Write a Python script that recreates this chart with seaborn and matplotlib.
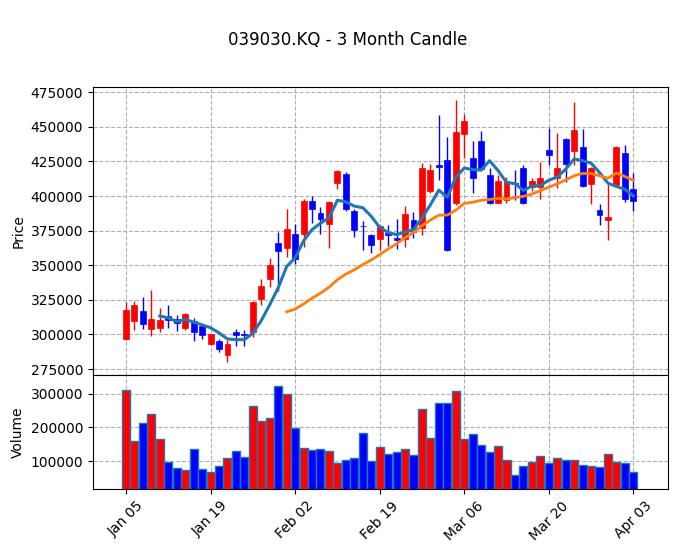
# Candlestick chart with moving averages and volume
import numpy as np
import pandas as pd
import matplotlib
matplotlib.use("Agg")
import matplotlib.pyplot as plt
import seaborn as sns
from matplotlib.ticker import MultipleLocator, ScalarFormatter

# ===========================
# Data
# ===========================
ticker_title = "039030.KQ - 3 Month Candle"

opens = [296400, 309700, 317300, 303900, 304800, 313000, 311400, 304600, 309400, 306000,
         293200, 295200, 285300, 301900, 300700, 301500, 325600, 340300, 366400, 362700,
         372500, 372900, 396400, 387900, 380000, 409700, 415900, 389100, 378700, 371700,
         369000, 373300, 369700, 369200, 383000, 377200, 403700, 422300, 425900, 395200,
         444700, 427800, 439400, 415200, 395200, 396900, 409500, 420500, 406500, 406500,
         433100, 413300, 441100, 432600, 435700, 408400, 390100, 382400, 407700, 431400,
         405300]
closes = [317400, 321000, 307600, 310900, 310100, 310100, 308200, 314700, 301700, 299800,
          300000, 289400, 293000, 299300, 299500, 323400, 335000, 350200, 360600, 376200,
          354800, 396400, 390800, 383600, 395600, 418300, 390600, 375400, 378000, 364700,
          378400, 371600, 368000, 386800, 374000, 420600, 418700, 421100, 361000, 446400,
          453900, 412800, 419300, 395200, 410900, 410900, 408500, 394700, 410900, 413300,
          429500, 420000, 423400, 447600, 407300, 420500, 386000, 385000, 435500, 397600,
          396400]
highs = [323400, 323900, 327300, 331900, 319300, 321000, 313800, 315500, 311800, 307700,
         300700, 296400, 295900, 304300, 303100, 323900, 339800, 355000, 374300, 390400,
         379700, 397500, 400000, 392300, 396400, 418800, 417400, 390300, 381900, 372500,
         379100, 378900, 383700, 392600, 388500, 424000, 422800, 458500, 442800, 469300,
         459200, 439900, 447100, 420500, 415200, 413800, 418700, 422500, 412800, 424900,
         449000, 445200, 441800, 467600, 448300, 421000, 394500, 408500, 436200, 437000,
         416900]
lows = [295700, 303400, 304000, 298600, 301700, 304600, 302400, 303400, 295200, 296600,
        292300, 287500, 280200, 292000, 292000, 298300, 321200, 334000, 331400, 356200,
        351200, 363300, 380700, 372500, 362800, 404800, 389100, 370500, 360900, 358500,
        360800, 363700, 362000, 363200, 369900, 371600, 402300, 411400, 360500, 393300,
        427800, 402400, 419300, 394000, 395200, 395200, 397000, 394000, 403600, 397600,
        422500, 406000, 410400, 422500, 406500, 394500, 379000, 367900, 407000, 395900,
        389100]
volumes = [311800, 159100, 214300, 240900, 167000, 96100, 78300, 73400, 137400, 76400,
           66500, 84200, 110800, 129600, 113800, 262500, 218200, 229000, 323600, 300000,
           199500, 140400, 134500, 137400, 129600, 93100, 103000, 110800, 182700, 100000,
           143300, 122700, 128600, 137400, 119700, 255600, 169900, 273400, 273400, 308800,
           167000, 181800, 149300, 128600, 146300, 104900, 57600, 84200, 96100, 116700,
           93100, 110800, 102000, 102000, 87200, 84200, 81300, 122700, 99000, 93100,
           66500]
tick_labels = ["Jan 05", "Jan 19", "Feb 02", "Feb 19", "Mar 06", "Mar 20", "Apr 03"]

# ===========================
# Prep
# ===========================
df = pd.DataFrame({"open": opens, "close": closes, "high": highs,
                   "low": lows, "volume": volumes})
df["idx"] = np.arange(len(df))
df["dir"] = np.where(df["close"] >= df["open"], "up", "down")
df["ma5"] = df["close"].rolling(5).mean()
df["ma20"] = df["close"].rolling(20).mean()
palette = {"up": "red", "down": "blue"}
colors = df["dir"].map(palette).tolist()

fig = plt.figure(figsize=(6.77, 5.53), dpi=100)
ax = fig.add_axes([0.1374, 0.3219, 0.8493, 0.5208])
axv = fig.add_axes([0.1374, 0.1157, 0.8493, 0.2062], sharex=ax)

# ===========================
# Candles
# ===========================
ax.vlines(df["idx"], df["low"], df["high"], colors=colors, linewidth=1, zorder=2)
body = (df["close"] - df["open"]).abs()
ax.bar(df["idx"], body.clip(lower=600), bottom=df[["open", "close"]].min(axis=1),
       width=0.7, color=colors, edgecolor=colors, linewidth=0.5, zorder=3)

sns.lineplot(data=df, x="idx", y="ma5", color="#1f77b4", linewidth=2.2, ax=ax, zorder=4)
sns.lineplot(data=df, x="idx", y="ma20", color="#ff7f0e", linewidth=2, ax=ax, zorder=4)

pad = (df["high"].max() - df["low"].min()) * 0.05
ax.set_ylim(df["low"].min() - pad, df["high"].max() + pad)
ax.yaxis.set_major_locator(MultipleLocator(25000))
ax.set_ylabel("Price")
ax.set_xlabel("")
ax.tick_params(axis="x", bottom=False, labelbottom=False)

# ===========================
# Volume
# ===========================
sns.barplot(data=df, x="idx", y="volume", hue="dir", palette=palette,
            native_scale=True, dodge=False, width=0.95, errorbar=None,
            saturation=1, edgecolor="#1f77b4", linewidth=1, legend=False,
            ax=axv, zorder=3)
axv.set_ylim(df["volume"].min() * 0.3, df["volume"].max() * 1.1)
axv.yaxis.set_major_locator(MultipleLocator(100000))
axv.set_ylabel("Volume")
axv.set_xlabel("")

axv.set_xticks(np.arange(0, len(df), 10))
axv.set_xticklabels(tick_labels, rotation=45)
axv.set_xlim(-3.9, 64.1)

for a in (ax, axv):
    fmt = ScalarFormatter(useOffset=False)
    fmt.set_scientific(False)
    a.yaxis.set_major_formatter(fmt)
    a.grid(True, linestyle="--", color="#b0b0b0", linewidth=0.8, zorder=0)
    a.set_axisbelow(True)

fig.suptitle(ticker_title, x=0.513, y=0.928, fontsize=12, va="center")
fig.savefig("out.png", dpi=100)
